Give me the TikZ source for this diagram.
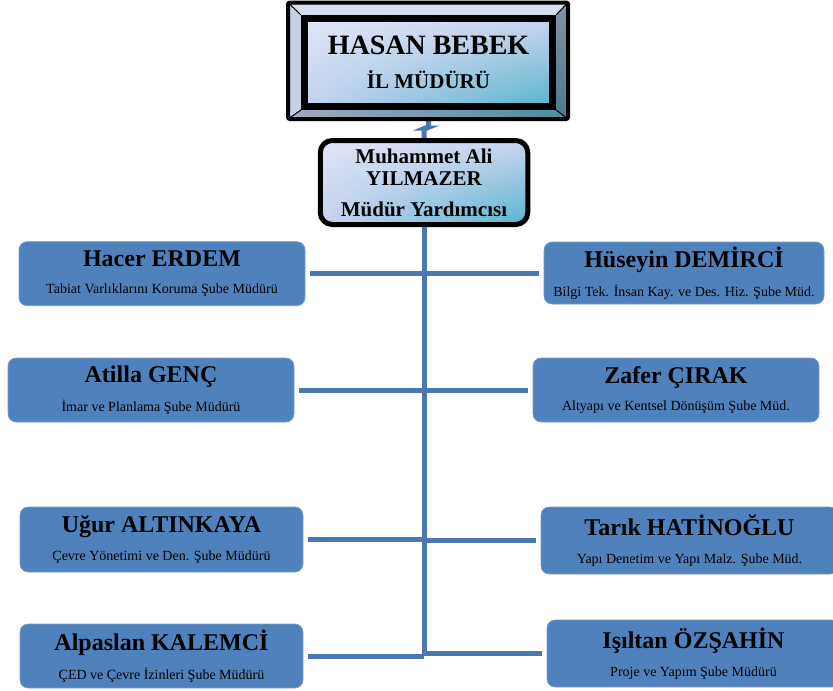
\documentclass[tikz,border=0pt]{standalone}
\usepackage{fontspec}
\setmainfont{Liberation Serif}
\usepackage{tikz}
\usetikzlibrary{calc,backgrounds,shadings}
\definecolor{unitblue}{HTML}{4F81BD}
\definecolor{unitedge}{HTML}{7A9CCB}
\definecolor{linkblue}{HTML}{4A78B0}
\definecolor{shadeA}{HTML}{E1E6F5}
\definecolor{shadeB}{HTML}{CAD4EF}
\definecolor{shadeC}{HTML}{C6D2EE}
\definecolor{shadeD}{HTML}{55B4CE}
\definecolor{bevtop}{HTML}{D6DDEC}
\definecolor{bevleft}{HTML}{C8D0E4}
\definecolor{bevbotL}{HTML}{A2A9BE}
\definecolor{bevbotR}{HTML}{4E8C9F}
\definecolor{bevrightT}{HTML}{8690A4}
\definecolor{bevrightB}{HTML}{4A7A8A}

\begin{document}
\begin{tikzpicture}[x=1pt,y=-1pt,
headbox/.style={rectangle,draw=black,line width=7pt,minimum width=248pt,minimum height=88pt,
  upper left=shadeA,upper right=shadeB,lower left=shadeC,lower right=shadeD,
  align=center,inner sep=0pt,font=\fontsize{21}{24}\selectfont\bfseries},
deputybox/.style={rectangle,rounded corners=12pt,draw=black,line width=5pt,minimum width=207.5pt,minimum height=84pt,
  upper left=shadeA,upper right=shadeB,lower left=shadeC,lower right=shadeD,
  align=center,inner sep=0pt,font=\fontsize{21}{22}\selectfont\bfseries},
unitbox/.style={rectangle,rounded corners=8pt,fill=unitblue,draw=unitedge,line width=0.6pt,
  align=center,inner sep=0pt,font=\fontsize{14}{16}\selectfont},
link/.style={draw=linkblue,line width=5pt},
branch/.style={link,shorten >=5pt}]
    \useasboundingbox (0,0) rectangle (833,691);
    \clip (0,0) rectangle (833,691);

    % director and deputy
    \node[headbox] (ilmudur) at (428.5,62.5) {{\fontsize{28}{30}\selectfont HASAN BEBEK}\\[10pt]İL MÜDÜRÜ};
    \node[deputybox] (yardimci) at (424,182.5) {Muhammet Ali\\YILMAZER\\[9pt]Müdür Yardımcısı};

    % bevelled frame round the director
    \begin{scope}[on background layer]
        \draw[link,rounded corners=3pt] (ilmudur.south) -- ++(0,18) -| (yardimci.north);
        \coordinate (fnw) at ($(ilmudur.north west)+(-13,-12.5)$);
        \coordinate (fse) at ($(ilmudur.south east)+(12,9)$);
        \fill[bevtop] (fnw) -- (fse |- fnw) -- (ilmudur.north east) -- (ilmudur.north west) -- cycle;
        \fill[bevleft] (fnw) -- (ilmudur.north west) -- (ilmudur.south west) -- (fnw |- fse) -- cycle;
        \shade[left color=bevbotL,right color=bevbotR] (fnw |- fse) -- (ilmudur.south west) -- (ilmudur.south east) -- (fse) -- cycle;
        \shade[top color=bevrightT,bottom color=bevrightB] (fse |- fnw) -- (fse) -- (ilmudur.south east) -- (ilmudur.north east) -- cycle;
        \draw[line width=1pt] (fnw) -- (ilmudur.north west) (fse |- fnw) -- (ilmudur.north east)
            (fse) -- (ilmudur.south east) (fnw |- fse) -- (ilmudur.south west);
        \draw[line width=4pt,rounded corners=2pt] (fnw) rectangle (fse);
    \end{scope}

    % branch offices
    \node[unitbox,minimum width=286pt,minimum height=64pt] (hacer) at (162,273.7)
        {{\fontsize{24}{26}\selectfont\bfseries Hacer ERDEM}\\[11.7pt]Tabiat Varlıklarını Koruma Şube Müdürü};
    \node[unitbox,minimum width=286pt,minimum height=64pt] (atilla) at (151,390)
        {{\fontsize{24}{26}\selectfont\bfseries Atilla GENÇ}\\[11.7pt]İmar ve Planlama Şube Müdürü};
    \node[unitbox,minimum width=283pt,minimum height=65pt] (ugur) at (161.5,539.5)
        {{\fontsize{24}{26}\selectfont\bfseries Uğur ALTINKAYA}\\[11.7pt]Çevre Yönetimi ve Den. Şube Müdürü};
    \node[unitbox,minimum width=283pt,minimum height=64pt] (alpaslan) at (161.5,656)
        {{\fontsize{24}{26}\selectfont\bfseries Alpaslan KALEMCİ}\\[11.7pt]ÇED ve Çevre İzinleri Şube Müdürü};
    \node[unitbox,minimum width=280pt,minimum height=62pt] (huseyin) at (684,273)
        {{\fontsize{24}{26}\selectfont\bfseries Hüseyin DEMİRCİ}\\[11.7pt]Bilgi Tek. İnsan Kay. ve Des. Hiz. Şube Müd.};
    \node[unitbox,minimum width=286pt,minimum height=64pt] (zafer) at (676,390)
        {{\fontsize{24}{26}\selectfont\bfseries Zafer ÇIRAK}\\[11.7pt]Altyapı ve Kentsel Dönüşüm Şube Müd.};
    \node[unitbox,minimum width=297pt,minimum height=67pt] (tarik) at (689.5,540.5)
        {{\fontsize{24}{26}\selectfont\bfseries Tarık HATİNOĞLU}\\[11.7pt]Yapı Denetim ve Yapı Malz. Şube Müd.};
    \node[unitbox,minimum width=293pt,minimum height=67pt] (isiltan) at (693.5,653.5)
        {{\fontsize{24}{26}\selectfont\bfseries Işıltan ÖZŞAHİN}\\[11.7pt]Proje ve Yapım Şube Müdürü};

    % trunk and branches
    \coordinate (trunkend) at (424,656);
    \draw[link] (yardimci.south) -- (trunkend);
    \foreach \u in {hacer,atilla,ugur,alpaslan}
        \draw[branch] (\u -| trunkend) -- (\u.east);
    \foreach \u in {huseyin,zafer,tarik,isiltan}
        \draw[branch] (\u -| trunkend) -- (\u.west);
\end{tikzpicture}
\end{document}
